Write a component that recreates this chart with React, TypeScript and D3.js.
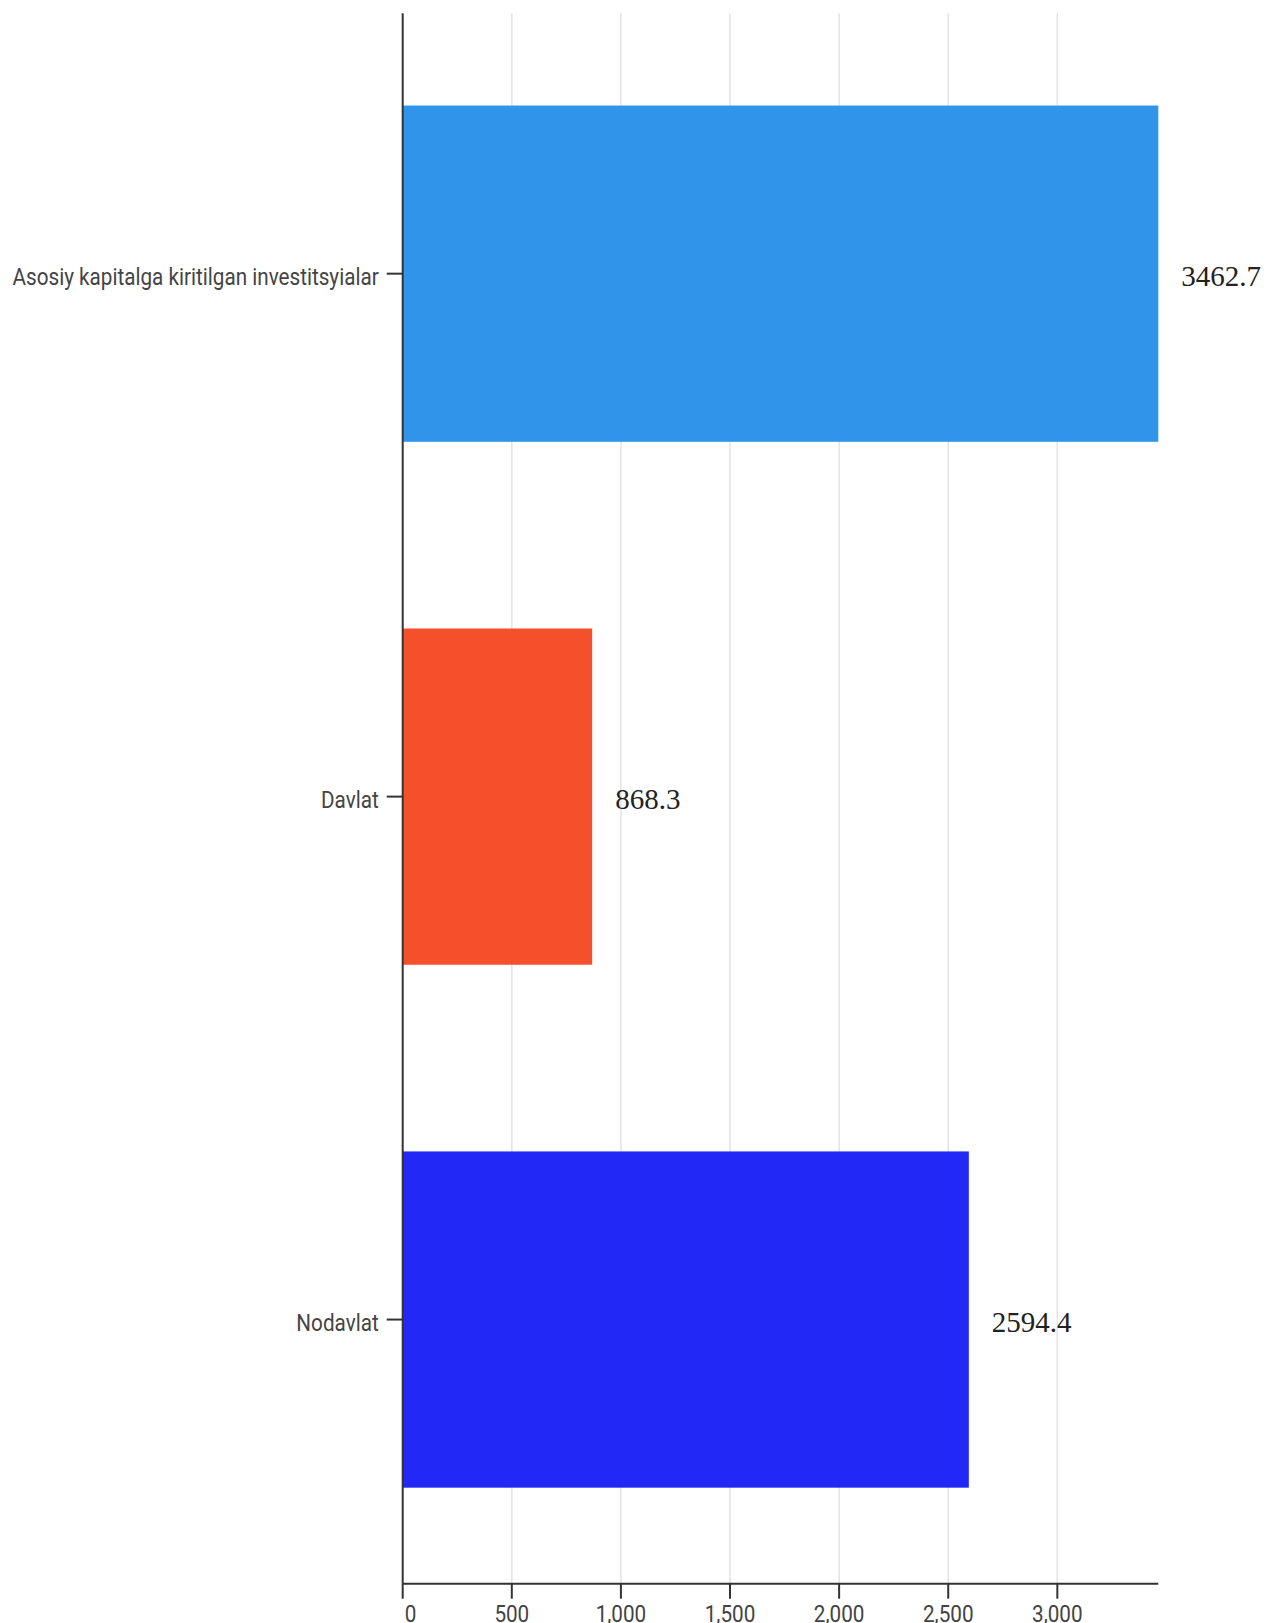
import React from "react";
import * as d3 from "d3";

const categories = ["Asosiy kapitalga kiritilgan investitsyialar", "Davlat", "Nodavlat"];
const values = [3462.7, 868.3, 2594.4];
const colors = ["#3094EA", "#F64F2C", "#2229F7"];
const xTicks = [0, 500, 1000, 1500, 2000, 2500, 3000];

const W = 1266;
const H = 1623;
const left = 402.7;
const right = 1158.3;
const top = 13.3;
const bottom = 1583.7;

export default function App() {
  const x = d3.scaleLinear().domain([0, d3.max(values) as number]).range([left, right]);
  const y = d3
    .scaleBand<string>()
    .domain(categories)
    .range([top, bottom])
    .paddingInner(0.357)
    .paddingOuter(0.18)
    .align(0.49);
  const fmt = d3.format(",");
  const tickFont = "Roboto, 'Noto Sans', sans-serif";
  return (
    <svg
      width={W}
      height={H}
      style={{ position: "absolute", left: 0, top: 0, display: "block", background: "#fff" }}
    >
      {xTicks
        .filter((t) => t > 0)
        .map((t) => (
          <line key={"g" + t} x1={x(t)} x2={x(t)} y1={top} y2={bottom} stroke="#e3e3e3" strokeWidth={1.5} />
        ))}
      {categories.map((c, i) => (
        <rect key={c} x={x(0)} y={y(c)} width={x(values[i]) - x(0)} height={y.bandwidth()} fill={colors[i]} />
      ))}
      {/* y axis */}
      <line x1={left} x2={left} y1={top} y2={bottom} stroke="#333" strokeWidth={2} />
      {categories.map((c) => {
        const cy = (y(c) as number) + y.bandwidth() / 2;
        return (
          <g key={"yt" + c}>
            <line x1={left - 16} x2={left} y1={cy} y2={cy} stroke="#333" strokeWidth={2} />
            <text
              transform={`translate(${left - 24},${cy + 11}) scale(0.88,1)`}
              textAnchor="end"
              fontFamily={tickFont}
              fontSize={23.5}
              fill="#444"
            >
              {c}
            </text>
          </g>
        );
      })}
      {/* x axis */}
      <line x1={left} x2={right} y1={bottom} y2={bottom} stroke="#333" strokeWidth={2} />
      {xTicks.map((t, i) => (
        <g key={"xt" + t}>
          <line x1={x(t)} x2={x(t)} y1={bottom} y2={bottom + 15} stroke="#333" strokeWidth={2} />
          <text
            transform={`translate(${i === 0 ? x(t) + 2 : x(t)},${1621.5}) scale(0.88,1)`}
            textAnchor={i === 0 ? "start" : "middle"}
            fontFamily={tickFont}
            fontSize={23.5}
            fill="#444"
          >
            {fmt(t)}
          </text>
        </g>
      ))}
      {/* value labels */}
      {categories.map((c, i) => {
        const cy = (y(c) as number) + y.bandwidth() / 2;
        return (
          <text
            key={"v" + c}
            x={x(values[i]) + 23}
            y={cy + 12.8}
            fontFamily="'Liberation Serif', 'Times New Roman', serif"
            fontSize={29}
            fill="#222"
          >
            {values[i]}
          </text>
        );
      })}
    </svg>
  );
}
